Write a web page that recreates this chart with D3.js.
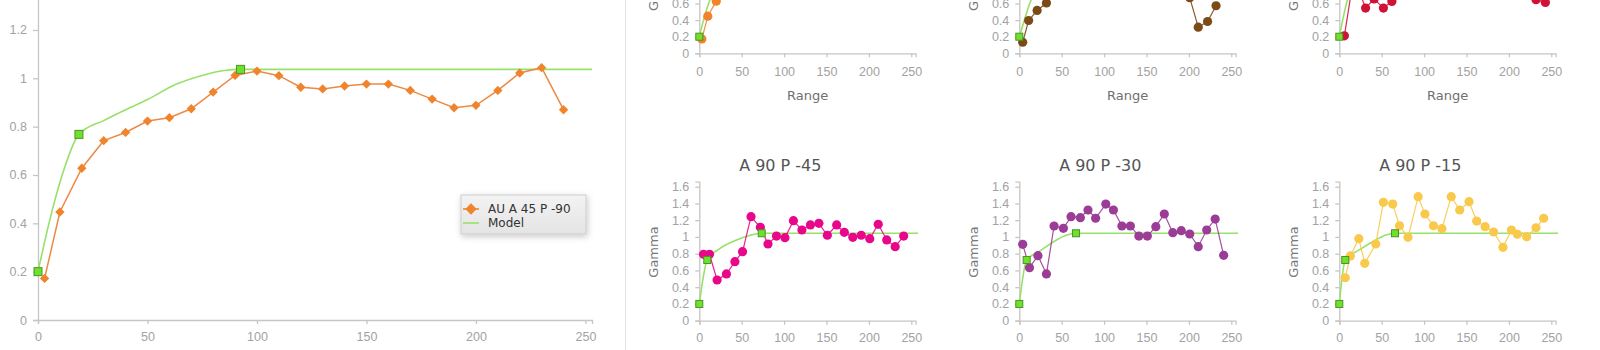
<!DOCTYPE html>
<html>
<head>
<meta charset="utf-8">
<script src="https://cdn.jsdelivr.net/npm/d3@7"></script>
<style>
  html, body { margin: 0; padding: 0; background: #ffffff; }
  svg { display: block; font-family: "DejaVu Sans", Verdana, sans-serif; }
</style>
</head>
<body>
<svg id="chart" width="1600" height="350"></svg>
<script>
// ---- Experimental variogram: AU A 45 P -90 (large panel) ----
const mainLags  = [3, 10, 20, 30, 40, 50, 60, 70, 80, 90, 100, 110, 120, 130, 140, 150, 160, 170, 180, 190, 200, 210, 220, 230, 240];
const mainGamma = [0.172, 0.447, 0.628, 0.742, 0.776, 0.823, 0.837, 0.874, 0.943, 1.012, 1.030, 1.011, 0.963, 0.956, 0.968, 0.976, 0.976, 0.950, 0.914, 0.878, 0.888, 0.950, 1.022, 1.044, 0.870];

// fitted model curve and its structure knots
const mainModelLags  = [0, 5, 10.8, 18.7, 30, 40, 50, 63, 75, 85, 92.5, 253];
const mainModelGamma = [0.2, 0.40, 0.593, 0.768, 0.825, 0.870, 0.912, 0.975, 1.012, 1.032, 1.037, 1.037];
const mainKnotLags   = [0, 18.7, 92.5];
const mainKnotGamma  = [0.2, 0.768, 1.037];

const mainSeriesName = "AU A 45 P -90";
const modelName = "Model";

// ---- Directional variograms (small multiples) ----
const brownLags  = [4, 11, 21, 32, 42, 52, 62, 72, 82, 92, 102, 112, 122, 132, 142, 152, 162, 172, 182, 191, 201, 211, 222, 232];
const brownGamma = [0.133, 0.395, 0.516, 0.606, 0.78, 0.86, 0.95, 1.02, 1.08, 1.05, 1.12, 1.10, 1.04, 0.98, 1.06, 1.00, 0.93, 0.88, 0.80, 0.74, 0.67, 0.315, 0.383, 0.573];
const brownModelLags  = [0, 6, 12.6, 21, 40, 60, 80, 95, 258];
const brownModelGamma = [0.2, 0.40, 0.61, 0.77, 0.88, 0.97, 1.025, 1.04, 1.04];
const brownKnotLags   = [0, 21, 95];
const brownKnotGamma  = [0.2, 0.77, 1.04];

const redLags  = [6, 17, 31, 41, 52, 62, 72, 82, 92, 102, 112, 122, 132, 142, 152, 162, 172, 182, 192, 202, 212, 222, 232, 243];
const redGamma = [0.21, 0.92, 0.545, 0.655, 0.545, 0.625, 0.85, 0.95, 1.05, 1.10, 1.00, 0.95, 1.05, 1.12, 1.02, 0.98, 0.92, 1.00, 1.06, 0.95, 0.85, 0.78, 0.646, 0.613];
const redModelLags  = [0, 9.8, 12, 30, 50, 70, 258];
const redModelGamma = [0.2, 0.65, 0.72, 0.88, 0.99, 1.04, 1.04];
const redKnotLags   = [0, 12, 70];
const redKnotGamma  = [0.2, 0.72, 1.04];

const pinkTitle = "A 90 P -45";
const pinkLags  = [5, 12, 21, 32, 42, 51, 61, 72, 81, 91, 101, 111, 121, 131, 141, 151, 162, 171, 181, 191, 201, 211, 221, 231, 241];
const pinkGamma = [0.793, 0.793, 0.486, 0.558, 0.705, 0.824, 1.242, 1.115, 0.916, 1.011, 0.991, 1.194, 1.083, 1.143, 1.163, 1.020, 1.143, 1.055, 0.996, 1.020, 0.979, 1.151, 0.964, 0.884, 1.011];
const pinkModelLags  = [0, 9.4, 24, 44, 60, 73.6, 258];
const pinkModelGamma = [0.2, 0.725, 0.86, 0.964, 1.02, 1.044, 1.044];
const pinkKnotLags   = [0, 9.4, 73.6];
const pinkKnotGamma  = [0.2, 0.725, 1.044];

const purpleTitle = "A 90 P -30";
const purpleLags  = [4, 12, 22, 32, 41, 52, 61, 72, 81, 90, 102, 111, 121, 131, 141, 151, 161, 171, 181, 191, 201, 211, 221, 231, 241];
const purpleGamma = [0.912, 0.633, 0.776, 0.558, 1.131, 1.103, 1.242, 1.230, 1.322, 1.223, 1.393, 1.322, 1.131, 1.131, 1.011, 1.011, 1.123, 1.274, 1.051, 1.075, 1.035, 0.884, 1.083, 1.214, 0.781];
const purpleModelLags  = [0, 8.7, 24, 44, 56, 66.9, 258];
const purpleModelGamma = [0.2, 0.725, 0.83, 0.964, 1.023, 1.044, 1.044];
const purpleKnotLags   = [0, 8.7, 66.9];
const purpleKnotGamma  = [0.2, 0.725, 1.044];

const yellowTitle = "A 90 P -15";
const yellowLags  = [7, 13, 23, 30, 43, 52, 63, 71, 81, 93, 101, 111, 121, 132, 142, 153, 162, 172, 182, 193, 203, 210, 221, 232, 241];
const yellowGamma = [0.513, 0.773, 0.979, 0.685, 0.916, 1.414, 1.393, 1.134, 0.996, 1.481, 1.274, 1.134, 1.099, 1.481, 1.322, 1.421, 1.190, 1.123, 1.059, 0.876, 1.083, 1.032, 1.003, 1.110, 1.223];
const yellowModelLags  = [0, 7, 23.6, 43, 55, 65.7, 258];
const yellowModelGamma = [0.2, 0.725, 0.845, 0.964, 1.023, 1.044, 1.044];
const yellowKnotLags   = [0, 7, 65.7];
const yellowKnotGamma  = [0.2, 0.725, 1.044];

const xTickValues = [0, 50, 100, 150, 200, 250];
const mainYTicks  = [0, 0.2, 0.4, 0.6, 0.8, 1, 1.2];
const smallYTicks = [0, 0.2, 0.4, 0.6, 0.8, 1, 1.2, 1.4, 1.6];
const xAxisTitle = "Range";
const yAxisTitle = "Gamma";

// ---- styling ----
const AXIS_COLOR = "#c6c6c6";
const TICK_TEXT  = "#a2a2a2";
const MODEL_LINE = "#97e16a";
const KNOT_FILL  = "#6fe12c";
const KNOT_STROKE = "#4c9327";
const ORANGE = "#f0842c";

const zip = (xs, ys) => xs.map((x, i) => ({x, y: ys[i]}));
const fmt = d => String(+d.toFixed(1));

const svg = d3.select("#chart");

const defs = svg.append("defs");
const shadow = defs.append("filter").attr("id", "legendShadow")
  .attr("x", "-20%").attr("y", "-30%").attr("width", "140%").attr("height", "170%");
shadow.append("feDropShadow").attr("dx", 1).attr("dy", 2)
  .attr("stdDeviation", 3).attr("flood-color", "#000").attr("flood-opacity", 0.22);
const grad = defs.append("linearGradient").attr("id", "legendFill")
  .attr("x1", 0).attr("y1", 0).attr("x2", 0).attr("y2", 1);
grad.append("stop").attr("offset", "0%").attr("stop-color", "#f3f3f3");
grad.append("stop").attr("offset", "100%").attr("stop-color", "#e4e4e4");

function styleAxis(g, fontSize) {
  g.select(".domain").attr("stroke", AXIS_COLOR).attr("stroke-width", 1.3);
  g.selectAll(".tick line").attr("stroke", AXIS_COLOR).attr("stroke-width", 1.3);
  g.selectAll(".tick text").attr("fill", TICK_TEXT)
    .style("font-size", fontSize + "px");
}

function drawModel(g, x, y, lags, gamma, knotLags, knotGamma, knotSize) {
  g.append("path")
    .datum(zip(lags, gamma))
    .attr("fill", "none")
    .attr("stroke", MODEL_LINE)
    .attr("stroke-width", 1.6)
    .attr("d", d3.line().x(d => x(d.x)).y(d => y(d.y)).curve(d3.curveMonotoneX));
  return () => {
    g.selectAll(null)
      .data(zip(knotLags, knotGamma))
      .join("rect")
      .attr("x", d => x(d.x) - knotSize / 2)
      .attr("y", d => y(d.y) - knotSize / 2)
      .attr("width", knotSize).attr("height", knotSize)
      .attr("fill", KNOT_FILL).attr("stroke", KNOT_STROKE).attr("stroke-width", 1);
  };
}

// ================= Large panel =================
{
  const g = svg.append("g");
  const x = d3.scaleLinear().domain([0, 253]).range([38, 592]);
  const y = d3.scaleLinear().domain([0, 1.36]).range([320, 320 - 1.36 * 241.7]);

  const xa = g.append("g").attr("transform", `translate(0,${y(0)})`)
    .call(d3.axisBottom(x).tickValues(xTickValues).tickSizeOuter(0).tickSize(4).tickPadding(8));
  styleAxis(xa, 12.5);
  const ya = g.append("g").attr("transform", `translate(${x(0)},0)`)
    .call(d3.axisLeft(y).tickValues(mainYTicks).tickFormat(fmt).tickSizeOuter(0).tickSize(5).tickPadding(6));
  styleAxis(ya, 12.5);

  const knots = drawModel(g, x, y, mainModelLags, mainModelGamma, mainKnotLags, mainKnotGamma, 8);

  const pts = zip(mainLags, mainGamma);
  g.append("path").datum(pts)
    .attr("fill", "none").attr("stroke", "#eb8a44").attr("stroke-width", 1.5)
    .attr("d", d3.line().x(d => x(d.x)).y(d => y(d.y)));
  g.selectAll(null).data(pts).join("rect")
    .attr("x", -3.3).attr("y", -3.3).attr("width", 6.6).attr("height", 6.6)
    .attr("transform", d => `translate(${x(d.x)},${y(d.y)}) rotate(45)`)
    .attr("fill", ORANGE);
  knots();

  // legend
  const lg = g.append("g").attr("transform", "translate(461,195)");
  lg.append("rect").attr("width", 125).attr("height", 39)
    .attr("fill", "url(#legendFill)").attr("stroke", "#cdcdcd")
    .attr("filter", "url(#legendShadow)");
  lg.append("line").attr("x1", 2).attr("x2", 18).attr("y1", 14).attr("y2", 14)
    .attr("stroke", ORANGE).attr("stroke-width", 1.6);
  lg.append("rect").attr("x", -4).attr("y", -4).attr("width", 8).attr("height", 8)
    .attr("transform", "translate(10,14) rotate(45)").attr("fill", ORANGE);
  lg.append("text").attr("x", 27).attr("y", 14).attr("dy", "0.35em")
    .attr("fill", "#333").style("font-size", "12px").text(mainSeriesName);
  lg.append("line").attr("x1", 2).attr("x2", 18).attr("y1", 28).attr("y2", 28)
    .attr("stroke", MODEL_LINE).attr("stroke-width", 1.6);
  lg.append("text").attr("x", 27).attr("y", 28).attr("dy", "0.35em")
    .attr("fill", "#333").style("font-size", "12px").text(modelName);
}

// separator between panels
svg.append("line").attr("x1", 625.5).attr("x2", 625.5).attr("y1", 0).attr("y2", 350)
  .attr("stroke", "#e3e3e3").attr("stroke-width", 1);

// ================= Small multiples =================
const smallCharts = [
  {row: 0, col: 0, color: "#f0842c", lags: mainLags,   gamma: mainGamma,   mL: [...mainModelLags.slice(0, -1), 258], mG: mainModelGamma, kL: mainKnotLags, kG: mainKnotGamma, title: null},
  {row: 0, col: 1, color: "#7b4a17", lags: brownLags,  gamma: brownGamma,  mL: brownModelLags,  mG: brownModelGamma,  kL: brownKnotLags,  kG: brownKnotGamma, title: null},
  {row: 0, col: 2, color: "#cf1236", lags: redLags,    gamma: redGamma,    mL: redModelLags,    mG: redModelGamma,    kL: redKnotLags,    kG: redKnotGamma, title: null},
  {row: 1, col: 0, color: "#e8078a", lags: pinkLags,   gamma: pinkGamma,   mL: pinkModelLags,   mG: pinkModelGamma,   kL: pinkKnotLags,   kG: pinkKnotGamma, title: pinkTitle},
  {row: 1, col: 1, color: "#9b3c97", lags: purpleLags, gamma: purpleGamma, mL: purpleModelLags, mG: purpleModelGamma, kL: purpleKnotLags, kG: purpleKnotGamma, title: purpleTitle},
  {row: 1, col: 2, color: "#f9c94c", lags: yellowLags, gamma: yellowGamma, mL: yellowModelLags, mG: yellowModelGamma, kL: yellowKnotLags, kG: yellowKnotGamma, title: yellowTitle}
];

const rowBase = [53.3, 320.7];   // pixel row of gamma = 0
const rowUnit = [83, 83.75];     // pixels per unit gamma

smallCharts.forEach(c => {
  const g = svg.append("g");
  const ax0 = 699.3 + 320 * c.col;
  const x = d3.scaleLinear().domain([0, 255]).range([ax0, ax0 + 255 * 0.848]);
  const base = rowBase[c.row], unit = rowUnit[c.row];
  const y = d3.scaleLinear().domain([0, 1.66]).range([base, base - 1.66 * unit]);
  // the upper row runs past the top of the page; only label ticks that can show
  const yTicks = smallYTicks.filter(v => y(v) > -12);

  const xa = g.append("g").attr("transform", `translate(0,${base})`)
    .call(d3.axisBottom(x).tickValues(xTickValues).tickSizeOuter(0).tickSize(4).tickPadding(c.row === 0 ? 10 : 8));
  styleAxis(xa, 12.5);
  const ya = g.append("g").attr("transform", `translate(${ax0},0)`)
    .call(d3.axisLeft(y).tickValues(yTicks).tickFormat(fmt).tickSizeOuter(0).tickSize(4).tickPadding(6));
  styleAxis(ya, 12.5);

  g.append("text")
    .attr("transform", `translate(${ax0 - 46},${y(0.82)}) rotate(-90)`)
    .attr("text-anchor", "middle").attr("dy", "0.35em")
    .attr("fill", "#777").style("font-size", "13px").text(yAxisTitle);

  if (c.row === 0) {
    g.append("text").attr("x", ax0 + 108.4).attr("y", base + 42).attr("dy", "0.35em")
      .attr("text-anchor", "middle").attr("fill", "#6f6f6f").style("font-size", "13px")
      .text(xAxisTitle);
  }
  if (c.title) {
    g.append("text").attr("x", ax0 + 81).attr("y", 165).attr("dy", "0.35em")
      .attr("text-anchor", "middle").attr("fill", "#555").style("font-size", "16px")
      .text(c.title);
  }

  const knots = drawModel(g, x, y, c.mL, c.mG, c.kL, c.kG, 7);

  const pts = zip(c.lags, c.gamma);
  g.append("path").datum(pts)
    .attr("fill", "none").attr("stroke", c.color).attr("stroke-width", 1.2)
    .attr("stroke-opacity", 0.9)
    .attr("d", d3.line().x(d => x(d.x)).y(d => y(d.y)));
  g.selectAll(null).data(pts).join("circle")
    .attr("cx", d => x(d.x)).attr("cy", d => y(d.y)).attr("r", 4.6)
    .attr("fill", c.color);
  knots();
});
</script>
</body>
</html>
